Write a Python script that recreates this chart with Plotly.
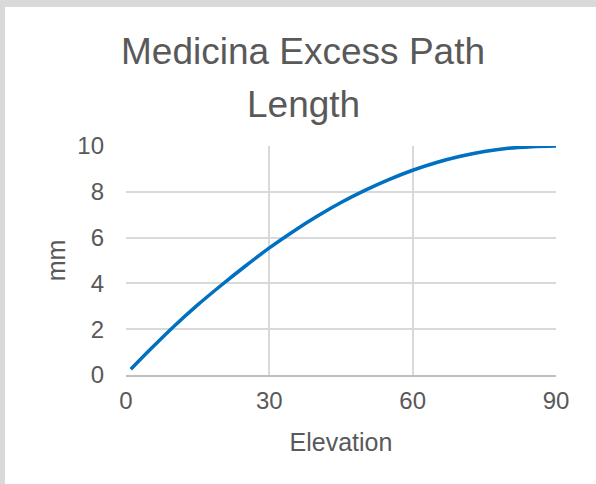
import plotly.graph_objects as go

# Excess path length (mm) versus elevation angle (degrees)
elevation = [1, 5, 10, 15, 20, 25, 30, 35, 40, 45, 50, 55, 60, 65, 70, 75, 80, 85, 90]
excess_mm = [0.25, 1.1, 2.12, 3.06, 3.93, 4.76, 5.55, 6.27, 6.93, 7.53, 8.06, 8.53,
             8.94, 9.28, 9.55, 9.76, 9.9, 9.97, 10.0]

title_lines = ["Medicina Excess Path", "Length"]
x_ticks = [0, 30, 60, 90]
y_ticks = [0, 2, 4, 6, 8, 10]

W, H = 596, 484
ML, MR, MT, MB = 126, 40, 146, 109
PW, PH = W - ML - MR, H - MT - MB

TEXT = "#595959"
GRID = "#d9d9d9"
FONT = "Liberation Sans, Arial, sans-serif"


def px_x(px):
    return (px - ML) / PW


def px_y(py):
    return (H - MB - py) / PH


fig = go.Figure()
fig.add_trace(go.Scatter(
    x=elevation, y=excess_mm, mode="lines",
    line=dict(color="#0070c0", width=3.5, shape="spline", smoothing=0.8),
    showlegend=False, cliponaxis=False,
))

# white chart card on a light gray page
fig.add_shape(
    type="rect", xref="paper", yref="paper", layer="below",
    x0=px_x(5), x1=px_x(W + 10), y0=px_y(H + 10), y1=px_y(7),
    fillcolor="white", line=dict(width=0),
)

# two-line chart title
for line, cy in zip(title_lines, [51, 104]):
    fig.add_annotation(
        text=line, xref="paper", yref="paper",
        x=px_x(303), y=px_y(cy), xanchor="center", yanchor="middle",
        showarrow=False, font=dict(size=37, color=TEXT, family=FONT),
    )

fig.update_layout(
    width=W, height=H,
    margin=dict(l=ML, r=MR, t=MT, b=MB),
    paper_bgcolor=GRID, plot_bgcolor="white",
    font=dict(family=FONT, color=TEXT),
    xaxis=dict(
        range=[0, 90], tickvals=x_ticks, ticktext=[str(v) for v in x_ticks],
        showgrid=True, gridcolor=GRID, gridwidth=1.5,
        showline=True, linecolor="#bfbfbf", linewidth=1.5,
        zeroline=False, ticks="", ticklabelstandoff=3,
        tickfont=dict(size=24, color=TEXT),
        title=dict(text="Elevation", font=dict(size=25, color=TEXT), standoff=21),
        fixedrange=True,
    ),
    yaxis=dict(
        range=[0, 10], tickvals=y_ticks, ticktext=[str(v) for v in y_ticks],
        showgrid=True, gridcolor=GRID, gridwidth=1.5,
        showline=False, zeroline=False, ticks="", ticklabelstandoff=21,
        tickfont=dict(size=24, color=TEXT),
        title=dict(text="mm", font=dict(size=25, color=TEXT), standoff=4),
        fixedrange=True,
    ),
)

fig.write_html("out.html", config={"displayModeBar": False})
